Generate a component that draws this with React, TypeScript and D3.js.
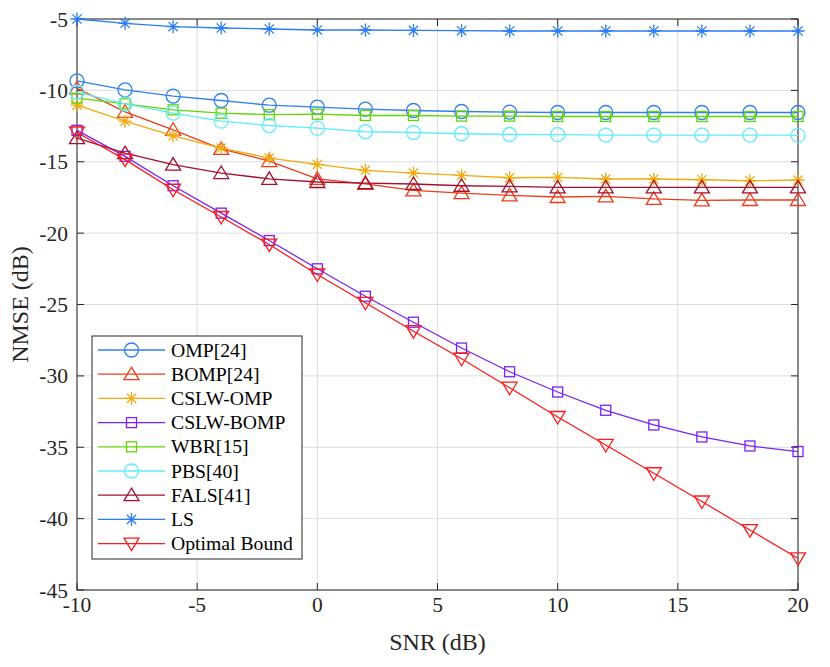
import React from "react";
import * as d3 from "d3";

const snr = [-10, -8, -6, -4, -2, 0, 2, 4, 6, 8, 10, 12, 14, 16, 18, 20];

const omp = [-9.34, -9.97, -10.4, -10.71, -11.04, -11.18, -11.32, -11.41, -11.48, -11.52, -11.55, -11.55, -11.55, -11.55, -11.55, -11.55];
const bomp = [-9.85, -11.5, -12.76, -14.1, -14.95, -16.2, -16.55, -17.0, -17.2, -17.35, -17.47, -17.42, -17.6, -17.7, -17.68, -17.68];
const cslwOmp = [-11.04, -12.16, -13.18, -14.04, -14.74, -15.19, -15.6, -15.79, -15.96, -16.12, -16.1, -16.21, -16.21, -16.26, -16.33, -16.28];
const cslwBomp = [-12.8, -14.62, -16.68, -18.6, -20.52, -22.5, -24.42, -26.24, -28.05, -29.71, -31.13, -32.41, -33.44, -34.28, -34.91, -35.3];
const wbr = [-10.55, -10.94, -11.36, -11.6, -11.7, -11.67, -11.76, -11.76, -11.8, -11.8, -11.83, -11.83, -11.83, -11.83, -11.83, -11.83];
const pbs = [-10.13, -10.94, -11.6, -12.16, -12.46, -12.65, -12.9, -12.95, -13.04, -13.09, -13.1, -13.13, -13.13, -13.13, -13.13, -13.15];
const fals = [-13.35, -14.4, -15.2, -15.79, -16.2, -16.42, -16.5, -16.56, -16.68, -16.73, -16.8, -16.8, -16.8, -16.8, -16.8, -16.8];
const ls = [-5.0, -5.3, -5.54, -5.63, -5.7, -5.77, -5.77, -5.8, -5.82, -5.84, -5.84, -5.84, -5.84, -5.84, -5.84, -5.84];
const optimal = [-12.95, -14.85, -16.96, -18.87, -20.8, -22.9, -24.88, -26.87, -28.8, -30.83, -32.88, -34.84, -36.82, -38.8, -40.8, -42.78];

const xTicks = [-10, -5, 0, 5, 10, 15, 20];
const yTicks = [-5, -10, -15, -20, -25, -30, -35, -40, -45];

type Marker = "circle" | "up" | "down" | "square" | "star";

const series: { name: string; values: number[]; color: string; marker: Marker }[] = [
  { name: "OMP[24]", values: omp, color: "#2f7ff2", marker: "circle" },
  { name: "BOMP[24]", values: bomp, color: "#ee3c18", marker: "up" },
  { name: "CSLW-OMP", values: cslwOmp, color: "#f2aa0c", marker: "star" },
  { name: "CSLW-BOMP", values: cslwBomp, color: "#7a22f5", marker: "square" },
  { name: "WBR[15]", values: wbr, color: "#62d600", marker: "square" },
  { name: "PBS[40]", values: pbs, color: "#62ecfc", marker: "circle" },
  { name: "FALS[41]", values: fals, color: "#a3102f", marker: "up" },
  { name: "LS", values: ls, color: "#2b7cf5", marker: "star" },
  { name: "Optimal Bound", values: optimal, color: "#ff1a1a", marker: "down" },
];

const W = 830;
const H = 667;
const left = 77, right = 798, top = 19, bottom = 590;
const font = "'Liberation Serif', 'Times New Roman', serif";
const axisColor = "#262626";

const x = d3.scaleLinear().domain([-10, 20]).range([left, right]);
const y = d3.scaleLinear().domain([-45, -5]).range([bottom, top]);

function MarkerShape({ kind, cx, cy, color }: { kind: Marker; cx: number; cy: number; color: string }) {
  const common = { fill: "none", stroke: color, strokeWidth: 1.3 };
  if (kind === "circle") return <circle cx={cx} cy={cy} r={7} {...common} />;
  if (kind === "square") return <rect x={cx - 5} y={cy - 5} width={10} height={10} {...common} />;
  if (kind === "up")
    return <path d={`M${cx},${cy - 7}L${cx + 7.5},${cy + 5.5}L${cx - 7.5},${cy + 5.5}Z`} {...common} />;
  if (kind === "down")
    return <path d={`M${cx},${cy + 7}L${cx + 7.5},${cy - 5.5}L${cx - 7.5},${cy - 5.5}Z`} {...common} />;
  const r = 6.5, d = 4.6;
  return (
    <path
      d={`M${cx},${cy - r}V${cy + r}M${cx - r},${cy}H${cx + r}M${cx - d},${cy - d}L${cx + d},${cy + d}M${cx - d},${cy + d}L${cx + d},${cy - d}`}
      {...common}
    />
  );
}

export default function App() {
  const line = d3
    .line<number>()
    .x((_, i) => x(snr[i]))
    .y((v) => y(v));

  const legX = 92, legY = 336, legW = 210, legH = 223;
  const rowY = (i: number) => 350 + i * 24.2;

  return (
    <svg width={W} height={H} style={{ position: "absolute", left: 0, top: 0, background: "#fff" }}>
      <rect x={0} y={0} width={W} height={H} fill="#fff" />
      {/* grid */}
      {xTicks.map((t) => (
        <line key={"gx" + t} x1={x(t)} x2={x(t)} y1={top} y2={bottom} stroke="#dcdcdc" strokeWidth={1} />
      ))}
      {yTicks.map((t) => (
        <line key={"gy" + t} x1={left} x2={right} y1={y(t)} y2={y(t)} stroke="#dcdcdc" strokeWidth={1} />
      ))}
      {/* ticks */}
      {xTicks.map((t) => (
        <g key={"tx" + t}>
          <line x1={x(t)} x2={x(t)} y1={bottom} y2={bottom - 7} stroke={axisColor} />
          <line x1={x(t)} x2={x(t)} y1={top} y2={top + 7} stroke={axisColor} />
          <text x={x(t)} y={612} textAnchor="middle" fontFamily={font} fontSize={21.5} fill={axisColor}>
            {t}
          </text>
        </g>
      ))}
      {yTicks.map((t) => (
        <g key={"ty" + t}>
          <line x1={left} x2={left + 7} y1={y(t)} y2={y(t)} stroke={axisColor} />
          <line x1={right} x2={right - 7} y1={y(t)} y2={y(t)} stroke={axisColor} />
          <text x={68} y={y(t) + 7.5} textAnchor="end" fontFamily={font} fontSize={21.5} fill={axisColor}>
            {t}
          </text>
        </g>
      ))}
      <rect x={left} y={top} width={right - left} height={bottom - top} fill="none" stroke={axisColor} strokeWidth={1} />
      {/* series */}
      {series.map((s) => (
        <g key={s.name}>
          <path d={line(s.values) || ""} fill="none" stroke={s.color} strokeWidth={1.3} />
          {s.values.map((v, i) => (
            <MarkerShape key={i} kind={s.marker} cx={x(snr[i])} cy={y(v)} color={s.color} />
          ))}
        </g>
      ))}
      {/* axis labels */}
      <text x={(left + right) / 2} y={650} textAnchor="middle" fontFamily={font} fontSize={24} fill={axisColor}>
        SNR (dB)
      </text>
      <text
        transform={`translate(28,${(top + bottom) / 2}) rotate(-90)`}
        textAnchor="middle"
        fontFamily={font}
        fontSize={24}
        fill={axisColor}
      >
        NMSE (dB)
      </text>
      {/* legend */}
      <rect x={legX} y={legY} width={legW} height={legH} fill="#fff" stroke={axisColor} strokeWidth={1} />
      {series.map((s, i) => (
        <g key={"leg" + s.name}>
          <line x1={98} x2={165} y1={rowY(i)} y2={rowY(i)} stroke={s.color} strokeWidth={1.3} />
          <MarkerShape kind={s.marker} cx={131.5} cy={rowY(i)} color={s.color} />
          <text x={171} y={rowY(i) + 6.5} fontFamily={font} fontSize={19.7} fill="#000">
            {s.name}
          </text>
        </g>
      ))}
    </svg>
  );
}
